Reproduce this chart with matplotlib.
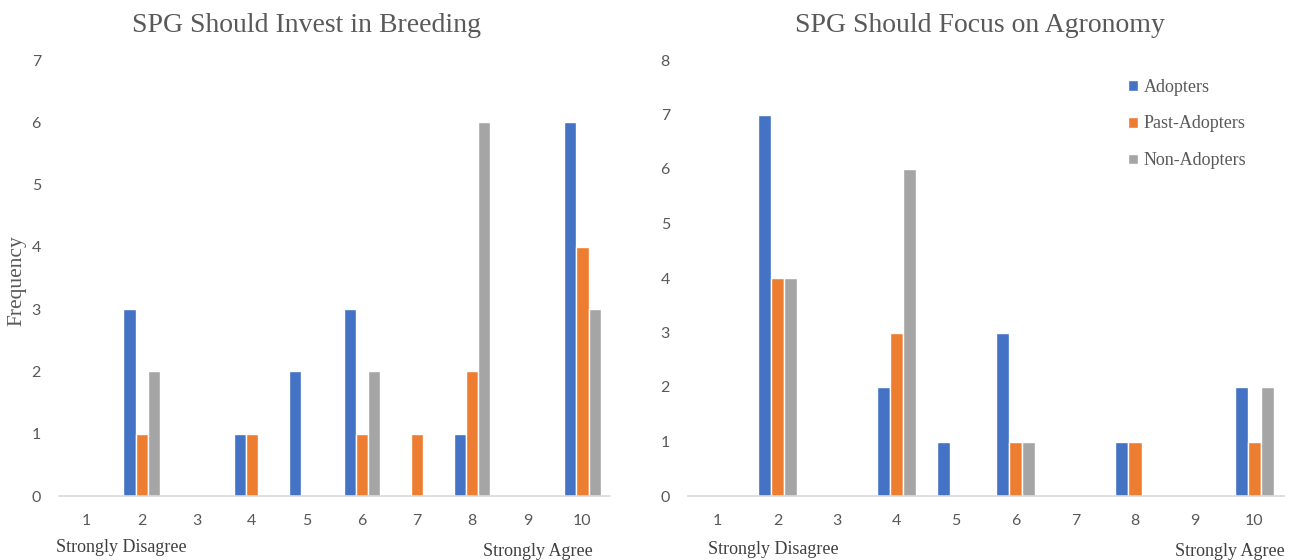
import numpy as np
import matplotlib
matplotlib.use("Agg")
import matplotlib.pyplot as plt

# Likert scale 1..10
scale = [1, 2, 3, 4, 5, 6, 7, 8, 9, 10]
groups = ["Adopters", "Past-Adopters", "Non-Adopters"]
colors = ["#4472C4", "#ED7D31", "#A5A5A5"]

# "SPG Should Invest in Breeding"
breeding_adopters = [0, 3, 0, 1, 2, 3, 0, 1, 0, 6]
breeding_past = [0, 1, 0, 1, 0, 1, 1, 2, 0, 4]
breeding_non = [0, 2, 0, 0, 0, 2, 0, 6, 0, 3]

# "SPG Should Focus on Agronomy"
agronomy_adopters = [0, 7, 0, 2, 1, 3, 0, 1, 0, 2]
agronomy_past = [0, 4, 0, 3, 0, 1, 0, 1, 0, 1]
agronomy_non = [0, 4, 0, 6, 0, 1, 0, 0, 0, 2]

SERIF = "Liberation Serif"
SANS = "Lato"
GREY_TXT = "#595959"

W, H = 1294, 560
fig = plt.figure(figsize=(W / 100, H / 100), dpi=100)


def px_axes(x0, x1, y_bottom, y_top):
    return fig.add_axes([x0 / W, 1 - y_bottom / H, (x1 - x0) / W, (y_bottom - y_top) / H])


def draw_panel(ax, series, ymax):
    x = np.array(scale)
    width = 0.22
    for i, (vals, col, name) in enumerate(zip(series, colors, groups)):
        ax.bar(x + (i - 1) * width, vals, width=width, color=col,
               edgecolor="white", linewidth=1.0, label=name)
    ax.set_xlim(0.5, 10.5)
    ax.set_ylim(0, ymax)
    ax.set_xticks(scale)
    ax.set_yticks(range(0, ymax + 1))
    ax.tick_params(length=0, labelsize=11.5, labelcolor=GREY_TXT)
    ax.tick_params(axis="x", pad=13)
    ax.tick_params(axis="y", pad=13)
    for lab in ax.get_xticklabels() + ax.get_yticklabels():
        lab.set_fontfamily(SANS)
    for s in ["top", "right", "left"]:
        ax.spines[s].set_visible(False)
    ax.spines["bottom"].set_color("#D9D9D9")
    ax.spines["bottom"].set_linewidth(1.2)


ax1 = px_axes(59, 610, 496, 60)
draw_panel(ax1, [breeding_adopters, breeding_past, breeding_non], 7)

ax2 = px_axes(688, 1284, 496, 60)
draw_panel(ax2, [agronomy_adopters, agronomy_past, agronomy_non], 8)
ax2.legend(loc="center left", bbox_to_anchor=((1128 - 688) / 596, (496 - 124) / 436),
           frameon=False, prop={"family": SERIF, "size": 13}, labelcolor=GREY_TXT,
           handlelength=0.55, handleheight=0.55, handletextpad=0.3,
           labelspacing=1.1, borderaxespad=0, borderpad=0)

title_kw = dict(fontfamily=SERIF, fontsize=20, color=GREY_TXT, ha="center", va="center")
fig.text(307 / W, 1 - 25 / H, "SPG Should Invest in Breeding", **title_kw)
fig.text(980 / W, 1 - 25 / H, "SPG Should Focus on Agronomy", **title_kw)

fig.text(17 / W, 1 - 281 / H, "Frequency", rotation=90, fontfamily=SERIF,
         fontsize=15.5, color=GREY_TXT, ha="center", va="center")

# scale end captions
cap = dict(fontfamily=SERIF, fontsize=13, color="#404040", va="center")
fig.text(56 / W, 1 - 548 / H, "Strongly Disagree", ha="left", **cap)
fig.text(593 / W, 1 - 551 / H, "Strongly Agree", ha="right", **cap)
fig.text(708 / W, 1 - 550 / H, "Strongly Disagree", ha="left", **cap)
fig.text(1285 / W, 1 - 551 / H, "Strongly Agree", ha="right", **cap)

fig.savefig("out.png", dpi=100)
